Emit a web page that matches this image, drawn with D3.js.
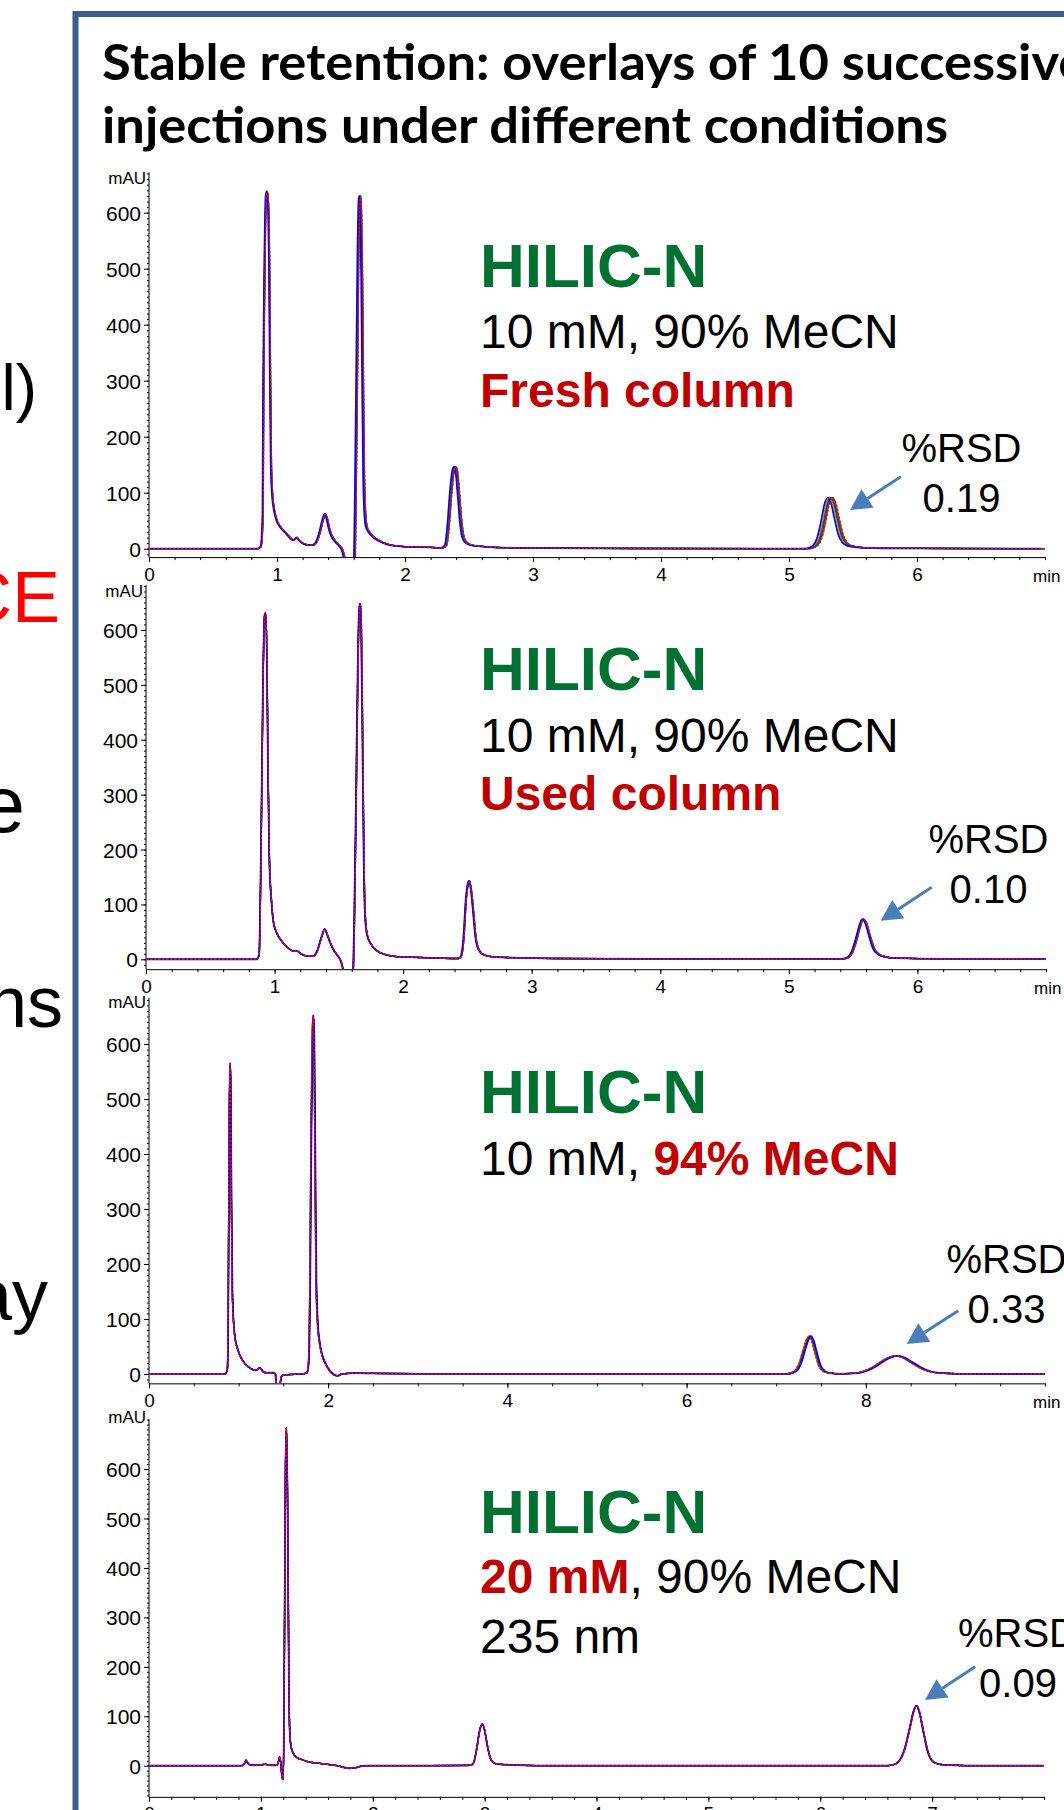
<!DOCTYPE html>
<html>
<head>
<meta charset="utf-8">
<script src="https://cdn.jsdelivr.net/npm/d3@7"></script>
<style>
  body { margin: 0; background: #fff; }
  svg { display: block; }
</style>
</head>
<body>
<svg id="chart" width="1064" height="1810"></svg>
<script>
// chromatogram traces: [time (min), signal (mAU)]
const freshColumn = [
  [0,0],[0.85,0],[0.875,4],[0.89,60],[0.895,300],[0.905,520],[0.915,630],[0.922,638],[0.93,625],[0.94,520],
  [0.948,300],[0.955,150],[0.965,95],[0.98,68],[1.0,50],[1.03,38],[1.07,28],[1.11,18],[1.13,15],[1.155,20],
  [1.17,16],[1.2,10],[1.24,7],[1.28,6.5],[1.3,9],[1.33,25],[1.36,52],[1.375,62],[1.39,55],[1.41,35],[1.43,22],
  [1.46,12],[1.49,5],[1.51,-2],[1.53,-20],[1.55,-60],[1.58,-80],[1.605,-40],[1.615,100],[1.625,300],[1.635,520],
  [1.645,625],[1.65,630],[1.657,600],[1.665,480],[1.672,300],[1.68,130],[1.69,60],[1.7,40],[1.72,30],[1.76,20],
  [1.8,14],[1.85,9],[1.9,6],[1.95,4.5],[2.05,3],[2.2,2.4],[2.29,1.5],[2.32,6],[2.34,40],[2.36,100],[2.38,140],
  [2.392,146],[2.405,138],[2.42,100],[2.44,45],[2.46,18],[2.49,9],[2.53,6],[2.6,4],[2.7,2.5],[2.9,1.5],[3.5,0.5],
  [5.15,0],[5.2,4],[5.24,18],[5.27,45],[5.3,80],[5.325,91],[5.35,82],[5.38,52],[5.41,24],[5.44,11],[5.48,5],
  [5.55,2.5],[5.7,1.2],[6,0.5],[7,0]
];
const usedColumn = [
  [0,0],[0.86,0],[0.88,8],[0.895,200],[0.91,500],[0.922,625],[0.93,631],[0.94,560],[0.95,330],[0.96,180],
  [0.975,110],[0.99,70],[1.01,52],[1.05,35],[1.1,22],[1.15,15],[1.17,16],[1.2,11],[1.25,6],[1.3,6],[1.33,14],
  [1.365,40],[1.39,55],[1.41,45],[1.43,32],[1.46,17],[1.49,7],[1.51,0],[1.53,-15],[1.55,-50],[1.59,-60],
  [1.61,-30],[1.62,60],[1.635,300],[1.65,560],[1.66,640],[1.667,648],[1.675,600],[1.685,400],[1.695,180],
  [1.705,80],[1.72,45],[1.75,28],[1.8,15],[1.87,8],[1.95,5],[2.1,3.5],[2.3,2],[2.43,1.5],[2.45,5],[2.47,35],
  [2.49,110],[2.505,138],[2.515,143],[2.53,125],[2.545,90],[2.565,40],[2.59,17],[2.63,8],[2.7,4.5],[2.85,3],
  [3.2,1.5],[4,0.8],[5.4,0.5],[5.45,2],[5.49,12],[5.52,32],[5.55,58],[5.575,73],[5.6,66],[5.63,42],[5.66,20],
  [5.7,9],[5.75,4.5],[5.85,2],[6.2,0.8],[7,0.5]
];
const mecn94 = [
  [0,0],[0.85,0],[0.875,10],[0.885,150],[0.895,450],[0.903,565],[0.91,540],[0.92,300],[0.93,150],[0.945,90],
  [0.96,65],[0.98,50],[1.01,35],[1.05,23],[1.1,14],[1.16,8],[1.2,7],[1.235,11],[1.255,8],[1.28,3],[1.33,2.5],
  [1.39,2.5],[1.41,0],[1.42,-25],[1.44,-35],[1.46,-20],[1.48,-3],[1.55,-1],[1.7,0],[1.76,2],[1.78,20],
  [1.795,150],[1.81,450],[1.825,630],[1.833,652],[1.842,610],[1.855,350],[1.865,170],[1.88,95],[1.9,60],
  [1.93,35],[1.97,18],[2.02,5],[2.07,-2],[2.11,-3],[2.15,0],[2.3,1.5],[2.5,1],[3,0.5],[4,0],[7.1,0],[7.2,4],
  [7.26,18],[7.31,45],[7.35,64],[7.375,69],[7.4,62],[7.44,38],[7.48,16],[7.53,5],[7.6,1.5],[7.7,0.5],[7.85,1],
  [8.0,6],[8.1,14],[8.2,25],[8.28,31],[8.33,33],[8.4,31],[8.5,22],[8.6,12],[8.7,5],[8.8,2],[9,0.5],[10,0]
];
const mm20 = [
  [0,0],[0.83,0],[0.855,5],[0.867,11],[0.88,6],[0.9,1.5],[0.95,0.5],[1.0,1.5],[1.04,3],[1.07,1],[1.14,0.5],
  [1.155,6],[1.168,18],[1.178,5],[1.188,-20],[1.198,-28],[1.205,50],[1.212,300],[1.22,600],[1.228,684],
  [1.236,600],[1.244,380],[1.25,180],[1.258,70],[1.27,38],[1.29,25],[1.32,17],[1.37,12],[1.42,8],[1.47,6],
  [1.52,5],[1.56,3.5],[1.6,2.5],[1.65,1],[1.7,-1],[1.75,-4],[1.8,-5.5],[1.85,-4],[1.9,-1],[1.95,0],[2.5,0],
  [2.87,0.5],[2.9,5],[2.93,35],[2.955,70],[2.978,84],[3.0,72],[3.025,40],[3.05,16],[3.08,6],[3.12,3],[3.2,2],
  [3.3,1],[3.5,0],[6.6,0],[6.65,1.5],[6.7,8],[6.75,30],[6.8,75],[6.835,110],[6.86,121],[6.885,110],[6.92,72],
  [6.96,30],[7.0,10],[7.05,3.5],[7.15,1],[7.3,0],[8,0]
];

// 10 successive injections: trace colour and relative retention drift
const injectionColors = ["#808080","#008000","#8b4513","#00a0a0","#800080","#606060","#a0a000","#404040","#0000ff","#ff0000"];
const driftFresh = [0.001, 0.002, -0.001, 0.0025, 0, 0.0015, -0.002, 0.0005, -0.0043, 0.003];
const driftUsed  = [0.0005, 0.001, -0.0005, 0.0008, 0, 0.0003, -0.0008, 0.0002, -0.0012, 0.001];
const drift94    = [0.0005, -0.001, 0.001, -0.0005, 0, 0.0012, -0.0008, 0.0003, 0.0022, -0.0012];
const drift20    = [0.0002, -0.0002, 0.0001, 0, -0.0001, 0.0003, -0.0003, 0.0001, -0.0003, 0.0003];

const mauTicks = [0, 100, 200, 300, 400, 500, 600];
const minTicks7 = [0, 1, 2, 3, 4, 5, 6];
const minTicks10 = [0, 2, 4, 6, 8];
const minTicks8 = [0, 1, 2, 3, 4, 5, 6, 7];
const rsdValues = ["0.19", "0.10", "0.33", "0.09"];

const GREEN = "#007033", DARKRED = "#c00000", ARROW = "#4a7ebb";
const SANS = "'Liberation Sans', Arial, sans-serif";

const svg = d3.select("#chart");
svg.append("rect").attr("width", 1064).attr("height", 1810).attr("fill", "#fff");

// cut-off text of the neighbouring slide column
const leftBits = [
  { text: "el)", x: 37, y: 410, size: 64, color: "#000" },
  { text: "CE", x: 60, y: 622, size: 72, color: "#ff0000" },
  { text: "e", x: 25, y: 832, size: 80, color: "#000" },
  { text: "columns", x: 63, y: 1027, size: 72, color: "#000" },
  { text: "ay", x: 48, y: 1320, size: 72, color: "#000" }
];
svg.append("g").attr("font-family", SANS)
  .selectAll("text").data(leftBits).join("text")
  .attr("x", d => d.x).attr("y", d => d.y)
  .attr("text-anchor", "end")
  .attr("font-size", d => d.size)
  .attr("fill", d => d.color)
  .text(d => d.text);

// frame
svg.append("rect")
  .attr("x", 75.5).attr("y", 14)
  .attr("width", 1100).attr("height", 1900)
  .attr("fill", "none")
  .attr("stroke", "#3b5f8d")
  .attr("stroke-width", 6);

// title
const title = svg.append("g")
  .attr("font-family", "Lato, 'Open Sans', sans-serif")
  .attr("font-weight", 700)
  .attr("font-size", 49);
const t1 = title.append("text").attr("x", 102).attr("y", 80).text("Stable retention: overlays of 10 successive");
const t2 = title.append("text").attr("x", 102).attr("y", 143).text("injections under different conditions");
const k = 846 / t2.node().getComputedTextLength();
t2.attr("textLength", 846).attr("lengthAdjust", "spacingAndGlyphs");
t1.attr("textLength", t1.node().getComputedTextLength() * k).attr("lengthAdjust", "spacingAndGlyphs");

const panels = [
  {
    data: freshColumn, drift: driftFresh, tMax: 7, xTicks: minTicks7, minorX: 0.2,
    x0: 149, x1: 1045, vMin: -15, vMax: 672, yBottom: 557.1, yTop: 172.4, mauDy: 11.5,
    lines: [
      { y: 348, parts: [["10 mM, 90% MeCN", "#000", 400]] },
      { y: 407, parts: [["Fresh column", DARKRED, 700]] }
    ],
    hilicY: 287, rsdX: 961.5, rsdY: 462, arrow: [[900.7, 476.7], [850, 510]]
  },
  {
    data: usedColumn, drift: driftUsed, tMax: 7, xTicks: minTicks7, minorX: 0.2,
    x0: 146, x1: 1046, vMin: -18, vMax: 682, yBottom: 969.2, yTop: 584.9, mauDy: 12,
    lines: [
      { y: 752, parts: [["10 mM, 90% MeCN", "#000", 400]] },
      { y: 810, parts: [["Used column", DARKRED, 700]] }
    ],
    hilicY: 690, rsdX: 988.5, rsdY: 853, arrow: [[931.7, 887.3], [880.7, 920.7]]
  },
  {
    data: mecn94, drift: drift94, tMax: 10, xTicks: minTicks10, minorX: 0.5,
    x0: 149, x1: 1045, vMin: -17, vMax: 684, yBottom: 1383.35, yTop: 997.8, mauDy: 10,
    lines: [
      { y: 1175, parts: [["10 mM, ", "#000", 400], ["94% MeCN", DARKRED, 700]] }
    ],
    hilicY: 1113, rsdX: 1006.5, rsdY: 1273, arrow: [[958.3, 1310.7], [906.7, 1344]]
  },
  {
    data: mm20, drift: drift20, tMax: 8, xTicks: minTicks8, minorX: 0.2,
    x0: 149, x1: 1044, vMin: -63, vMax: 701, yBottom: 1796.85, yTop: 1419.1, mauDy: 4,
    lines: [
      { y: 1593, parts: [["20 mM", DARKRED, 700], [", 90% MeCN", "#000", 400]] },
      { y: 1653, parts: [["235 nm", "#000", 400]] }
    ],
    hilicY: 1533, rsdX: 1018, rsdY: 1646.7, arrow: [[975, 1666.7], [925, 1700]]
  }
];

panels.forEach((p, pi) => {
  const g = svg.append("g");
  const x = d3.scaleLinear().domain([0, p.tMax]).range([p.x0, p.x1]);
  const y = d3.scaleLinear().domain([p.vMin, p.vMax]).range([p.yBottom, p.yTop]);

  // clip traces at the axes
  const clipId = "clip" + pi;
  svg.append("clipPath").attr("id", clipId)
    .append("rect")
    .attr("x", p.x0).attr("y", p.yTop - 10)
    .attr("width", p.x1 - p.x0).attr("height", p.yBottom - p.yTop + 10);

  // y axis: minor then major
  const yMinor = d3.range(Math.ceil(p.vMin / 10) * 10, p.vMax, 10);
  g.append("g").attr("transform", `translate(${p.x0},0)`)
    .call(d3.axisLeft(y).tickValues(yMinor).tickSize(2).tickSizeOuter(0).tickFormat(""))
    .call(a => a.select(".domain").remove());
  const ya = g.append("g").attr("transform", `translate(${p.x0},0)`)
    .call(d3.axisLeft(y).tickValues(mauTicks).tickSize(5).tickSizeOuter(0).tickPadding(3));
  ya.select(".domain").attr("d", `M0,${p.yBottom}V${p.yTop}`);
  ya.selectAll("text").attr("font-family", SANS).attr("font-size", 21).attr("fill", "#000").attr("dy", "0.36em");

  // x axis
  const xMinor = d3.range(0, p.tMax + 1e-9, p.minorX);
  g.append("g").attr("transform", `translate(0,${p.yBottom})`)
    .call(d3.axisBottom(x).tickValues(xMinor).tickSize(3).tickSizeOuter(0).tickFormat(""))
    .call(a => a.select(".domain").remove());
  const xa = g.append("g").attr("transform", `translate(0,${p.yBottom})`)
    .call(d3.axisBottom(x).tickValues(p.xTicks).tickSize(5).tickSizeOuter(0).tickPadding(5).tickFormat(d3.format("d")));
  xa.selectAll("text").attr("font-family", SANS).attr("font-size", 19).attr("fill", "#000");
  [ya, xa].forEach(a => a.attr("font-family", null).attr("font-size", null));

  g.append("text")
    .attr("x", p.x0 - 3).attr("y", p.yTop + p.mauDy)
    .attr("text-anchor", "end")
    .attr("font-family", SANS).attr("font-size", 17)
    .text("mAU");
  g.append("text")
    .attr("x", p.x1 - 12).attr("y", p.yBottom + 25)
    .attr("font-family", SANS).attr("font-size", 17)
    .text("min");

  // overlaid injections
  const line = d3.line()
    .x(d => x(d[0]))
    .y(d => y(d[1]))
    .curve(d3.curveMonotoneX);
  const traces = g.append("g").attr("clip-path", `url(#${clipId})`).attr("fill", "none");
  injectionColors.forEach((c, i) => {
    const s = 1 + p.drift[i];
    traces.append("path")
      .attr("d", line(p.data.map(d => [d[0] * s, d[1]])))
      .attr("stroke", c)
      .attr("stroke-width", c === "#0000ff" ? 1.7 : 1.3)
      .attr("stroke-dasharray", c === "#ff0000" ? "2.5,1.5" : null)
      .attr("stroke-linejoin", "round");
  });

  // labels
  const txt = g.append("g").attr("font-family", SANS);
  txt.append("text")
    .attr("x", 480).attr("y", p.hilicY)
    .attr("font-size", 62).attr("font-weight", 700).attr("fill", GREEN)
    .text("HILIC-N");
  p.lines.forEach(l => {
    const t = txt.append("text").attr("x", 480).attr("y", l.y).attr("font-size", 48);
    l.parts.forEach(([s, col, w]) => t.append("tspan").attr("fill", col).attr("font-weight", w).text(s));
  });
  txt.append("text")
    .attr("x", p.rsdX).attr("y", p.rsdY)
    .attr("text-anchor", "middle").attr("font-size", 40)
    .text("%RSD");
  txt.append("text")
    .attr("x", p.rsdX).attr("y", p.rsdY + 50)
    .attr("text-anchor", "middle").attr("font-size", 40)
    .text(rsdValues[pi]);

  // arrow
  const [[fx, fy], [tx, ty]] = p.arrow;
  const ang = Math.atan2(ty - fy, tx - fx);
  const L = 21, W = 11;
  const bx = tx - L * Math.cos(ang), by = ty - L * Math.sin(ang);
  g.append("line")
    .attr("x1", fx).attr("y1", fy).attr("x2", bx).attr("y2", by)
    .attr("stroke", ARROW).attr("stroke-width", 3);
  g.append("polygon")
    .attr("points", [
      [tx, ty],
      [bx + W * Math.sin(ang), by - W * Math.cos(ang)],
      [bx - W * Math.sin(ang), by + W * Math.cos(ang)]
    ].map(q => q.join(",")).join(" "))
    .attr("fill", ARROW);
});
</script>
</body>
</html>
